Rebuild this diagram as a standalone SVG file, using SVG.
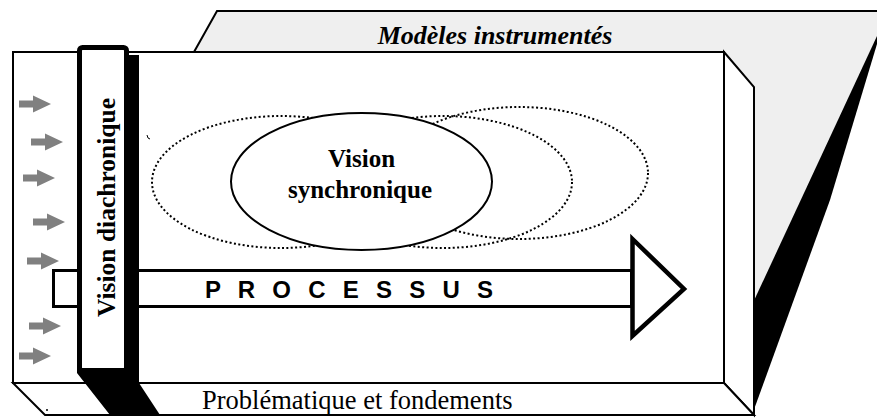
<svg xmlns="http://www.w3.org/2000/svg" width="877" height="418" viewBox="0 0 877 418">
<defs>
<style>
.ln{stroke:#000;stroke-width:2;stroke-linejoin:miter}
.face{fill:#fff;stroke:#000;stroke-width:2}
.dot{fill:none;stroke:#000;stroke-width:2;stroke-dasharray:2 2.4}
.serif{font-family:"Liberation Serif","Times New Roman",serif;fill:#000}
.sans{font-family:"Liberation Sans",Arial,sans-serif;fill:#000}
.garrow{fill:#808080}
</style>
<path id="ga" d="M0,-3.6 H14 V-8.5 L32,0 L14,8.5 V3.6 H0 Z"/>
</defs>
<rect width="877" height="418" fill="#fff"/>

<g id="node-modeles">
<polygon points="194,52 217,11 877,11 877,37 752,415 724,52" fill="#efefef"/>
<polygon points="877,36 745,320 752,415 830,200 877,44" fill="#000"/>
<polyline points="194,52 217,11 877,11" fill="none" class="ln"/>
<text class="serif" x="495" y="44" font-size="26" font-weight="bold" font-style="italic" text-anchor="middle">Modèles instrumentés</text>
</g>

<g id="node-problematique">
<polygon class="face" points="724,52 754,87 754,415 724,383"/>
<polygon class="face" points="13,383 724,383 754,415 45,415"/>
<rect class="face" x="13" y="52" width="711" height="331"/>
<circle cx="47" cy="410" r="1" fill="#000"/>
<path d="M147,135 l1,3 l2,1" fill="none" stroke="#000" stroke-width="1"/>
<text class="serif" x="202" y="409" font-size="26.5">Problématique et fondements</text>
</g>

<g id="node-vision-synchronique">
<ellipse class="dot" cx="281" cy="182" rx="129" ry="66"/>
<ellipse class="dot" cx="443" cy="182" rx="129" ry="66"/>
<ellipse class="dot" cx="519" cy="173" rx="129" ry="66"/>
<ellipse cx="361.5" cy="181.5" rx="130.5" ry="68.5" fill="#fff" stroke="#000" stroke-width="2"/>
<text class="serif" font-size="25" font-weight="bold" text-anchor="middle"><tspan x="361.5" y="167">Vision</tspan><tspan x="360" y="198">synchronique</tspan></text>
</g>

<g id="node-processus">
<rect x="53.5" y="270.5" width="578" height="36" fill="#fff" stroke="#000" stroke-width="3"/>
<polygon points="632.5,239 684,289 632.5,336" fill="#fff" stroke="#000" stroke-width="4.5"/>
<text class="sans" x="205" y="298" font-size="24" font-weight="bold" textLength="288" lengthAdjust="spacing">P R O C E S S U S</text>
</g>

<g id="connectors">
<use href="#ga" class="garrow" x="19" y="104"/>
<use href="#ga" class="garrow" x="31" y="142"/>
<use href="#ga" class="garrow" x="23" y="178"/>
<use href="#ga" class="garrow" x="33" y="222"/>
<use href="#ga" class="garrow" x="27" y="261"/>
<use href="#ga" class="garrow" x="29" y="326"/>
<use href="#ga" class="garrow" x="19" y="356"/>
</g>

<g id="node-vision-diachronique">
<polygon points="129,55 139,55 139,383 160,415 110,415 77,373 77,368 129,368" fill="#000"/>
<rect x="79.5" y="47.5" width="47" height="323" rx="3" fill="#fff" stroke="#000" stroke-width="5"/>
<text class="serif" transform="translate(114.5,207.5) rotate(-90)" font-size="25.5" font-weight="bold" text-anchor="middle">Vision diachronique</text>
</g>
</svg>
